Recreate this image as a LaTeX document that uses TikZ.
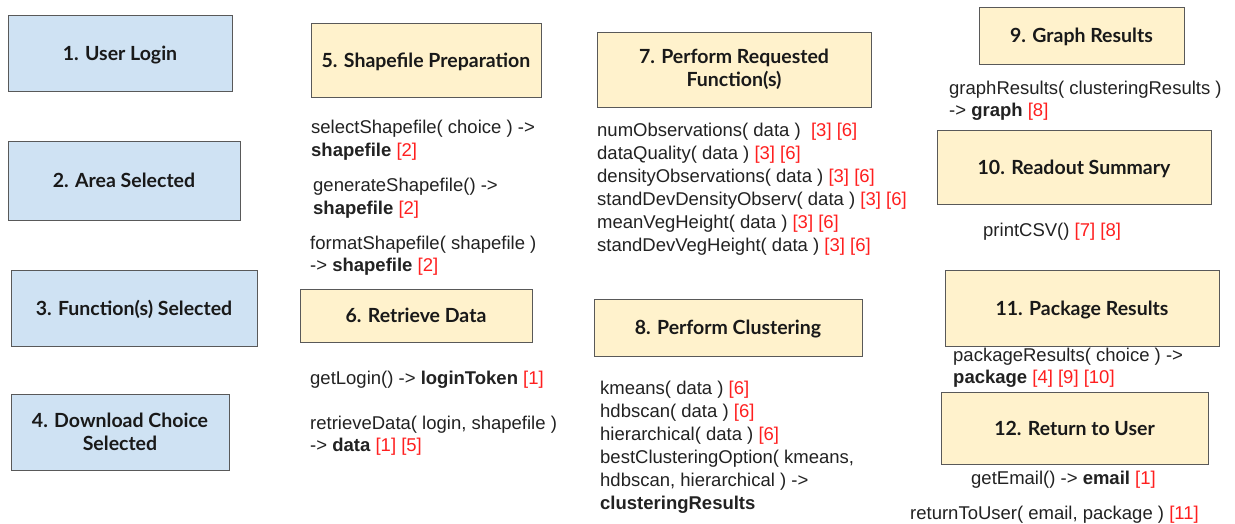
\documentclass[tikz,border=0pt]{standalone}
\usepackage{fontspec}
\setmainfont{Liberation Sans}
\newfontfamily\titlefont{Lato}
\definecolor{stepblue}{HTML}{CFE2F3}
\definecolor{stepyellow}{HTML}{FFF2CC}
\definecolor{boxline}{HTML}{595959}
\definecolor{reftag}{HTML}{FF1F1F}
\definecolor{bodytext}{HTML}{222222}
\newcommand\rf[1]{\textcolor{reftag}{[#1]}}
\tikzset{
  stepbox/.style={draw=boxline, line width=1pt, align=center,
    font=\titlefont\bfseries\fontsize{19.5}{23}\selectfont, text=black!90},
  oneline/.style={text height=14pt, text depth=0pt},
  bluebox/.style={stepbox, fill=stepblue},
  yellowbox/.style={stepbox, fill=stepyellow},
  fn/.style={anchor=base west, inner sep=0pt, text=bodytext,
    font=\fontsize{18.5}{23}\selectfont},
}
\begin{document}
\begin{tikzpicture}[x=1pt,y=-1pt]
\useasboundingbox[fill=white] (0,0) rectangle (1235,523);

% client-side steps
\node[bluebox, oneline, minimum width=224pt, minimum height=76pt] (s1) at (120,53) {1. User Login};
\node[bluebox, oneline, minimum width=232pt, minimum height=79pt] (s2) at (124,180.5) {2. Area Selected};
\node[bluebox, oneline, minimum width=246pt, minimum height=76pt] (s3) at (134,308) {3. Function(s) Selected};
\node[bluebox, minimum width=218pt, minimum height=76pt] (s4) at (120,432) {4. Download Choice\\Selected};

% processing steps
\node[yellowbox, oneline, minimum width=230pt, minimum height=74pt] (s5) at (426,60) {5. Shapefile Preparation};
\node[yellowbox, oneline, minimum width=232pt, minimum height=53pt] (s6) at (416,315.5) {6. Retrieve Data};
\node[yellowbox, minimum width=274pt, minimum height=75pt] (s7) at (734,69.5) {7. Perform Requested\\Function(s)};
\node[yellowbox, oneline, minimum width=268pt, minimum height=57pt] (s8) at (728,327.5) {8. Perform Clustering};
\node[yellowbox, oneline, minimum width=205pt, minimum height=57pt] (s9) at (1081.5,35.5) {9. Graph Results};
\node[yellowbox, oneline, minimum width=274pt, minimum height=74pt] (s10) at (1074,167) {10. Readout Summary};
\node[yellowbox, oneline, minimum width=274pt, minimum height=76pt] (s11) at (1082,308) {11. Package Results};
\node[yellowbox, oneline, minimum width=267pt, minimum height=72pt] (s12) at (1074.5,428) {12. Return to User};

% step 5 functions
\node[fn] (f5a) at (311,133) {selectShapefile( choice ) ->};
\node[fn] (f5b) at (311,156) {\textbf{shapefile} \rf{2}};
\node[fn] (f5c) at (313,191) {generateShapefile() ->};
\node[fn] (f5d) at (313,214) {\textbf{shapefile} \rf{2}};
\node[fn] (f5e) at (310,249) {formatShapefile( shapefile )};
\node[fn] (f5f) at (310,271) {-> \textbf{shapefile} \rf{2}};

% step 6 functions
\node[fn] (f6a) at (310,384) {getLogin() -> \textbf{loginToken} \rf{1}};
\node[fn] (f6b) at (310,429) {retrieveData( login, shapefile )};
\node[fn] (f6c) at (310,451) {-> \textbf{data} \rf{1} \rf{5}};

% step 7 functions
\node[fn] (f7a) at (597,136) {numObservations( data ) \ \rf{3} \rf{6}};
\node[fn] (f7b) at (597,159) {dataQuality( data ) \rf{3} \rf{6}};
\node[fn] (f7c) at (597,182) {densityObservations( data ) \rf{3} \rf{6}};
\node[fn] (f7d) at (597,205) {standDevDensityObserv( data ) \rf{3} \rf{6}};
\node[fn] (f7e) at (597,228) {meanVegHeight( data ) \rf{3} \rf{6}};
\node[fn] (f7f) at (597,251) {standDevVegHeight( data ) \rf{3} \rf{6}};

% step 8 functions
\node[fn] (f8a) at (600,394) {kmeans( data ) \rf{6}};
\node[fn] (f8b) at (600,417) {hdbscan( data ) \rf{6}};
\node[fn] (f8c) at (600,440) {hierarchical( data ) \rf{6}};
\node[fn] (f8d) at (600,463) {bestClusteringOption( kmeans,};
\node[fn] (f8e) at (600,486) {hdbscan, hierarchical ) ->};
\node[fn] (f8f) at (600,509) {\textbf{clusteringResults}};

% steps 9 to 12 functions
\node[fn] (f9a) at (949,94) {graphResults( clusteringResults )};
\node[fn] (f9b) at (949,116) {-> \textbf{graph} \rf{8}};
\node[fn] (f10) at (983,236) {printCSV() \rf{7} \rf{8}};
\node[fn] (f11a) at (953,361) {packageResults( choice ) ->};
\node[fn] (f11b) at (953,383) {\textbf{package} \rf{4} \rf{9} \rf{10}};
\node[fn] (f12a) at (971,484) {getEmail() -> \textbf{email} \rf{1}};
\node[fn] (f12b) at (910,519) {returnToUser( email, package ) \rf{11}};
\end{tikzpicture}
\end{document}
